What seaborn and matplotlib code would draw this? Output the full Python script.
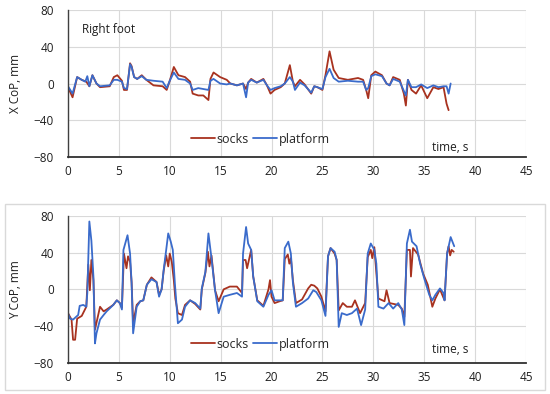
# ======================================
# IMPORTS
import numpy as np
import pandas as pd
import matplotlib
matplotlib.use("Agg")
import matplotlib.pyplot as plt
from matplotlib.patches import Rectangle
import seaborn as sns

# ======================================
# DATA
x_socks_t = [0, 0.45, 0.9, 1.35, 1.8, 2.1, 2.4, 2.8, 3.15,
             4.1, 4.5, 4.85, 5.3, 5.5, 5.8, 6.1, 6.25, 6.5, 6.8,
             7.25, 7.7, 8.4, 9.3, 9.7, 10.0, 10.4, 10.85, 11.5, 12.0,
             12.25, 12.8, 13.3, 13.8, 14.0, 14.3, 14.95, 15.6, 15.95, 16.6,
             17.2, 17.5, 17.7, 18.0, 18.55, 19.2, 19.55, 19.9, 20.3, 20.9,
             21.3, 21.8, 22.1, 22.3, 22.8, 23.25, 23.9, 24.2, 24.5, 25.0,
             25.3, 25.7, 26.1, 26.6, 27.5, 28.5, 29.0, 29.3, 29.5, 29.8,
             30.2, 30.85, 31.3, 31.6, 31.95, 32.6, 33.0, 33.2, 33.4, 33.75,
             34.2, 34.7, 35.3, 35.9, 36.4, 36.9, 37.2, 37.4]
x_socks = [-4, -15, 7, 4, 2, -3, 9, 0, -4,
           -3, 7, 9, 3, -7, -7, 22, 19, 7, 5,
           9, 4, -2, -3, -7, 3, 18, 9, 7, 2,
           -11, -13, -13, -18, 5, 12, 7, 4, 0, -2,
           0, -6, 1, 5, 1, 5, -2, -11, -7, -4,
           0, 20, 2, -3, 4, -1, -11, -3, -4, -7,
           9, 35, 15, 6, 4, 6, 4, -7, -16, 9,
           13, 9, 0, -2, 7, 4, -11, -24, 4, -7,
           -11, -2, -16, -4, -6, -4, -22, -29]

x_plat_t = [0, 0.45, 0.9, 1.35, 1.7, 1.9, 2.1, 2.4, 2.8, 3.15,
            4.1, 4.5, 4.85, 5.3, 5.5, 5.8, 6.1, 6.25, 6.5, 6.8,
            7.25, 7.7, 8.4, 9.3, 9.7, 10.0, 10.4, 10.85, 11.5, 12.0,
            12.25, 12.8, 13.3, 13.8, 14.0, 14.3, 14.95, 15.6, 15.95, 16.6,
            17.2, 17.5, 17.7, 18.0, 18.55, 19.2, 19.55, 19.9, 20.3, 20.9,
            21.3, 21.8, 22.1, 22.3, 22.8, 23.25, 23.9, 24.2, 24.5, 25.0,
            25.3, 25.7, 26.1, 26.6, 27.5, 28.5, 29.0, 29.3, 29.5, 29.8,
            30.2, 30.85, 31.3, 31.6, 31.95, 32.6, 33.0, 33.2, 33.4, 33.75,
            34.2, 34.7, 35.3, 35.9, 36.4, 36.9, 37.2, 37.4, 37.6]
x_plat = [-3, -11, 7, 4, 2, 8, -3, 9, 0, -3,
          -2, 4, 4, 2, -5, -6, 21, 18, 7, 5,
          8, 4, 3, 2, -5, 3, 12, 5, 4, 0,
          -7, -5, -6, -7, 3, 5, 0, -1, 0, -2,
          0, -15, 1, 4, 1, 4, -2, -7, -5, -3,
          0, 7, 2, -7, 1, -2, -10, -3, -4, -6,
          7, 16, 6, 2, 3, 2, 2, -7, -5, 8,
          10, 8, 0, -2, 5, 2, -8, -13, 4, -4,
          -4, -1, -5, -2, -4, -3, -3, -11, 0]

y_socks_t = [0, 0.35, 0.5, 0.7, 0.9, 1.35, 1.8, 2.0, 2.15, 2.3,
             2.5, 2.65, 3.15, 3.5, 3.8, 4.45, 4.8, 5.1, 5.3, 5.5,
             5.75, 5.9, 6.1, 6.25, 6.4, 6.75, 7.1, 7.4, 7.75, 8.2,
             8.7, 8.95, 9.2, 9.4, 9.65, 9.85, 10.0, 10.2, 10.4, 10.55,
             10.8, 11.2, 11.5, 12.0, 12.5, 13.0, 13.15, 13.5, 13.75, 13.9,
             14.1, 14.45, 14.8, 15.3, 15.9, 16.6, 17.1, 17.2, 17.45, 17.6,
             18.0, 18.2, 18.6, 19.2, 19.7, 19.85, 20.0, 20.3, 20.8, 21.1,
             21.3, 21.6, 21.75, 21.9, 22.1, 22.4, 23.0, 23.6, 23.9, 24.2,
             24.5, 24.9, 25.3, 25.55, 25.8, 26.2, 26.4, 26.6, 27.0, 27.4,
             27.9, 28.2, 28.7, 29.2, 29.45, 29.75, 29.9, 30.1, 30.5, 30.9,
             31.1, 31.3, 31.6, 32.45, 32.8, 33.05, 33.3, 33.6, 33.7, 33.9,
             34.4, 34.9, 35.35, 35.8, 36.1, 36.55, 37.0, 37.25, 37.4, 37.55,
             37.7, 37.9]
y_socks = [-26, -33, -55, -55, -32, -29, -19, 27, -1, 32,
           10, -44, -19, -24, -22, -17, -12, -15, -20, 39,
           23, 36, 30, 8, -37, -17, -13, -12, 5, 13,
           8, -6, 0, 20, 37, 25, 39, 30, 10, -10,
           -26, -28, -17, -12, -16, -22, 0, 18, 41, 25,
           37, -1, -13, 0, 3, 3, -4, 32, 32, 23,
           43, 14, -12, -18, 0, 10, -8, -15, -13, -12,
           33, 38, 28, 34, 10, -15, -11, 1, 5, 4,
           1, -8, -24, 36, 45, 39, 32, -23, -15, -19,
           -19, -12, -26, -15, 35, 43, 34, 46, -10, -12,
           -13, -1, -15, -17, -21, -30, 43, 43, 14, 45,
           38, 17, 5, -19, -10, 0, -12, 39, 47, 37,
           43, 41]

y_plat_t = [0, 0.2, 0.5, 1.0, 1.15, 1.5, 1.8, 1.9, 2.1, 2.3,
            2.5, 2.65, 2.8, 3.15, 3.5, 3.8, 4.45, 4.8, 5.1, 5.3,
            5.45, 5.85, 6.1, 6.25, 6.4, 6.75, 7.1, 7.4, 7.75, 8.2,
            8.7, 8.95, 9.2, 9.4, 9.65, 9.85, 10.1, 10.3, 10.5, 10.8,
            11.2, 11.5, 12.0, 12.5, 13.0, 13.15, 13.5, 13.8, 14.1, 14.45,
            14.8, 15.3, 15.9, 16.6, 17.1, 17.2, 17.5, 17.7, 18.0, 18.2,
            18.6, 19.2, 19.7, 20.0, 20.3, 20.8, 21.1, 21.3, 21.65, 21.9,
            22.1, 22.4, 23.0, 23.6, 24.1, 24.4, 24.9, 25.3, 25.55, 25.8,
            26.2, 26.4, 26.6, 26.9, 27.4, 27.9, 28.4, 28.8, 29.2, 29.45,
            29.75, 30.1, 30.3, 30.5, 31.0, 31.5, 31.95, 32.45, 32.8, 33.05,
            33.3, 33.6, 33.8, 34.25, 34.6, 35.0, 35.5, 35.8, 36.1, 36.55,
            36.9, 37.0, 37.25, 37.6, 37.95]
y_plat = [-26, -32, -33, -28, -18, -17, -19, -4, 74, 53,
          14, -59, -48, -33, -28, -24, -17, -12, -15, -22,
          43, 59, 39, 7, -48, -19, -13, -12, 5, 11,
          8, -8, 0, 21, 43, 61, 52, 43, 7, -37,
          -33, -19, -12, -15, -21, 1, 19, 61, 34, -1,
          -26, -8, -6, -4, -8, 39, 68, 50, 43, 14,
          -13, -19, -6, -1, -12, -12, -12, 45, 52, 39,
          7, -19, -15, -10, -1, -3, -12, -29, 36, 45,
          41, 32, -41, -26, -28, -26, -21, -39, -22, 39,
          50, 43, 28, -19, -21, -15, -21, -15, -22, -39,
          50, 65, 52, 47, 28, 12, -6, -12, -6, 1,
          -4, -12, 39, 57, 47]

series_names = ["socks", "platform"]
y_labels = ["X CoP, mm", "Y CoP, mm"]
x_ticks = [0, 5, 10, 15, 20, 25, 30, 35, 40, 45]
y_ticks = [-80, -40, 0, 40, 80]

# ======================================
# STYLE
sns.set_style("whitegrid")
plt.rcParams['font.family'] = ['Open Sans', 'DejaVu Sans']
colors = {"socks": "#A8321F", "platform": "#3A6BCB"}
txt = "#1f1f1f"

fig = plt.figure(figsize=(5.5, 3.94), dpi=100)
axes = [fig.add_axes([0.1236, 0.6015, 0.8327, 0.3731]),
        fig.add_axes([0.1236, 0.0795, 0.8327, 0.3723])]

# light frame around the lower panel
fig.patches.append(Rectangle((0.009, 0.010), 0.982, 0.472, transform=fig.transFigure,
                             fill=False, edgecolor="#d9d9d9", linewidth=1))

panels = [
    (x_socks_t, x_socks, x_plat_t, x_plat),
    (y_socks_t, y_socks, y_plat_t, y_plat),
]

for i, (ax, (st, sv, pt, pv)) in enumerate(zip(axes, panels)):
    df = pd.concat([
        pd.DataFrame({"t": st, "v": sv, "series": "socks"}),
        pd.DataFrame({"t": pt, "v": pv, "series": "platform"}),
    ])
    sns.lineplot(data=df, x="t", y="v", hue="series", hue_order=series_names,
                 palette=colors, linewidth=1.3, ax=ax, sort=False)

    ax.set_xlim(0, 45)
    ax.set_ylim(-80, 80)
    ax.set_xticks(x_ticks)
    ax.set_yticks(y_ticks)
    ax.set_xlabel("")
    ax.set_ylabel(y_labels[i], fontsize=8.5, color=txt)
    ax.yaxis.set_label_coords(-0.1, 0.5)
    ax.tick_params(axis="both", length=0, labelsize=8.5, colors=txt)
    ax.tick_params(axis="y", pad=10)
    ax.tick_params(axis="x", pad=6)
    ax.grid(True, color="#d9d9d9", linewidth=0.8)
    for s in ["top", "right"]:
        ax.spines[s].set_visible(False)
    ax.spines["left"].set_color("#404040")
    ax.spines["left"].set_linewidth(1.0)
    ax.spines["bottom"].set_color("#303030")
    ax.spines["bottom"].set_linewidth(1.3)

    leg_y = 0.122 if i == 0 else 0.127
    ax.legend(loc="center", bbox_to_anchor=(0.42, leg_y), ncol=2, frameon=False,
              fontsize=9, handlelength=1.9, handletextpad=0.15, columnspacing=0.3)
    ax.text(0.795, 0.068 if i == 0 else 0.087, "time, s", transform=ax.transAxes,
            fontsize=8.5, color=txt, va="center")

axes[0].text(0.03, 0.87, "Right foot", transform=axes[0].transAxes,
             fontsize=8.5, color=txt, va="center")

fig.savefig("out.png", dpi=100)
